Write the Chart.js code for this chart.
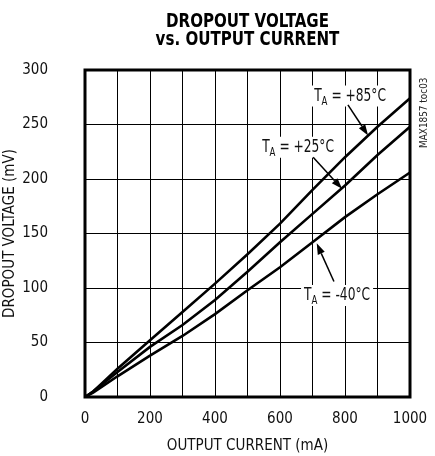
<!DOCTYPE html>
<html>
<head>
<title>Dropout Voltage vs. Output Current</title>
<script src="https://cdn.jsdelivr.net/npm/chart.js"></script>
<style>
	body {
		margin: 0;
		background: #fff;
	}
	canvas {
		display: block;
	}
</style>
</head>
<body>
<canvas id="myChart" width="435" height="456"></canvas>
<script>
	// values (mA -> mV)
	var current = [0, 25, 50, 100, 200, 300, 400, 500, 600, 700, 800, 900, 1000];
	var vHot  = [0, 5, 12, 26, 52, 78, 104, 131, 159, 190, 220, 248, 274];   // +85°C
	var vRoom = [0, 5, 11, 23, 46, 66, 89, 115, 142, 168, 194, 222, 248];    // +25°C
	var vCold = [0, 4, 9, 19, 38, 56, 76, 98, 119, 142, 165, 186, 206];      // -40°C
	var xTicks = [0, 200, 400, 600, 800, 1000];
	var yTicks = [0, 50, 100, 150, 200, 250, 300];

	var FONT = '"DejaVu Sans Condensed", "Liberation Sans Narrow", sans-serif';

	function points(vals) {
		return current.map(function(c, i) { return {x: c, y: vals[i]}; });
	}

	// curve labels, placed in data units (mA, mV)
	var notes = [
		{temp: '+85°C', at: [705, 272], from: [809, 268], to: [871, 240]},
		{temp: '+25°C', at: [545, 225], from: [702, 220], to: [791, 191]},
		{temp: '-40°C', at: [674, 89],  from: [766, 106], to: [713, 141]}
	];

	// draw text squeezed sideways so it looks like the condensed datasheet face
	function narrowText(ctx, str, x, y, sx) {
		ctx.save();
		ctx.translate(x, y);
		ctx.scale(sx, 1);
		ctx.fillText(str, 0, 0);
		ctx.restore();
		return ctx.measureText(str).width * sx;
	}

	var extras = {
		id: 'extras',
		afterDatasetsDraw: function(chart) {
			var ctx = chart.ctx, a = chart.chartArea;
			var sx = chart.scales.x, sy = chart.scales.y;
			ctx.save();

			// frame
			ctx.strokeStyle = '#000';
			ctx.lineWidth = 3;
			ctx.strokeRect(a.left, a.top, a.right - a.left, a.bottom - a.top);

			// title
			var cx = (a.left + a.right) / 2;
			ctx.fillStyle = '#000';
			ctx.textBaseline = 'alphabetic';
			ctx.textAlign = 'center';
			ctx.font = 'bold 19.5px ' + FONT;
			narrowText(ctx, 'DROPOUT VOLTAGE', cx, 26.5, 0.86);
			narrowText(ctx, 'vs. OUTPUT CURRENT', cx, 45, 0.86);

			ctx.textAlign = 'left';
			var sq = 0.8;
			notes.forEach(function(n) {
				var x = sx.getPixelForValue(n.at[0]);
				var y = sy.getPixelForValue(n.at[1]);
				var big = '17px ' + FONT, small = '12px ' + FONT;
				var rest = ' = ' + n.temp;
				ctx.font = big;
				var wT = ctx.measureText('T').width * sq;
				var wR = ctx.measureText(rest).width * sq;
				ctx.font = small;
				var wA = ctx.measureText('A').width * sq;
				var w = wT + wA + wR;

				ctx.fillStyle = '#fff';
				ctx.fillRect(x - 3, y - 15, w + 6, 21);

				ctx.fillStyle = '#111';
				ctx.font = big;
				narrowText(ctx, 'T', x, y, sq);
				ctx.font = small;
				narrowText(ctx, 'A', x + wT, y + 4, sq);
				ctx.font = big;
				narrowText(ctx, rest, x + wT + wA, y, sq);

				// arrow
				var x1 = sx.getPixelForValue(n.from[0]), y1 = sy.getPixelForValue(n.from[1]);
				var x2 = sx.getPixelForValue(n.to[0]), y2 = sy.getPixelForValue(n.to[1]);
				var ang = Math.atan2(y2 - y1, x2 - x1);
				var len = 11, hw = 3.8;
				ctx.strokeStyle = '#000';
				ctx.lineWidth = 1.5;
				ctx.beginPath();
				ctx.moveTo(x1, y1);
				ctx.lineTo(x2 - Math.cos(ang) * len, y2 - Math.sin(ang) * len);
				ctx.stroke();
				ctx.fillStyle = '#000';
				ctx.beginPath();
				ctx.moveTo(x2, y2);
				ctx.lineTo(x2 - Math.cos(ang) * len - Math.sin(ang) * hw, y2 - Math.sin(ang) * len + Math.cos(ang) * hw);
				ctx.lineTo(x2 - Math.cos(ang) * len + Math.sin(ang) * hw, y2 - Math.sin(ang) * len - Math.cos(ang) * hw);
				ctx.closePath();
				ctx.fill();
			});

			// figure tag on the right
			ctx.translate(a.right + 14, a.top + 78);
			ctx.rotate(-Math.PI / 2);
			ctx.font = '11px ' + FONT;
			ctx.fillStyle = '#222';
			ctx.textAlign = 'left';
			ctx.textBaseline = 'middle';
			narrowText(ctx, 'MAX1857 toc03', 0, 0, 0.9);
			ctx.restore();
		}
	};

	var ctx = document.getElementById('myChart').getContext('2d');
	var chart = new Chart(ctx, {
		type: 'line',
		data: {
			datasets: [
				{label: 'TA = +85°C', data: points(vHot)},
				{label: 'TA = +25°C', data: points(vRoom)},
				{label: 'TA = -40°C', data: points(vCold)}
			]
		},
		options: {
			responsive: false,
			animation: false,
			layout: {padding: {left: 0, right: 25, top: 70, bottom: 0}},
			elements: {
				line: {borderColor: '#000', borderWidth: 2.6, tension: 0},
				point: {radius: 0}
			},
			plugins: {
				legend: {display: false},
				tooltip: {enabled: false},
				title: {display: false}
			},
			scales: {
				x: {
					type: 'linear',
					min: 0,
					max: 1000,
					ticks: {
						stepSize: 100,
						autoSkip: false,
						maxRotation: 0,
						padding: 13,
						color: '#111',
						font: {family: FONT, size: 15},
						callback: function(v) { return xTicks.indexOf(v) >= 0 ? v : ''; }
					},
					grid: {color: '#000', lineWidth: 1, drawTicks: false},
					border: {display: false},
					title: {
						display: true,
						text: 'OUTPUT CURRENT (mA)',
						color: '#111',
						font: {family: FONT, size: 15, lineHeight: 1.2},
						padding: {top: 0, bottom: 1}
					},
					afterFit: function(s) {
						s.height = 59;
						s.paddingLeft = 0;
						s.paddingRight = 0;
					}
				},
				y: {
					min: 0,
					max: 300,
					ticks: {
						stepSize: 50,
						padding: 37,
						color: '#111',
						font: {family: FONT, size: 15},
						callback: function(v) { return yTicks.indexOf(v) >= 0 ? v : ''; }
					},
					grid: {color: '#000', lineWidth: 1, drawTicks: false},
					border: {display: false},
					title: {
						display: true,
						text: 'DROPOUT VOLTAGE (mV)',
						color: '#111',
						font: {family: FONT, size: 15, lineHeight: 1.2},
						padding: {top: 1, bottom: 0}
					},
					afterFit: function(s) {
						s.width = 85;
						s.paddingTop = 0;
						s.paddingBottom = 0;
					}
				}
			}
		},
		plugins: [extras]
	});
</script>
</body>
</html>
